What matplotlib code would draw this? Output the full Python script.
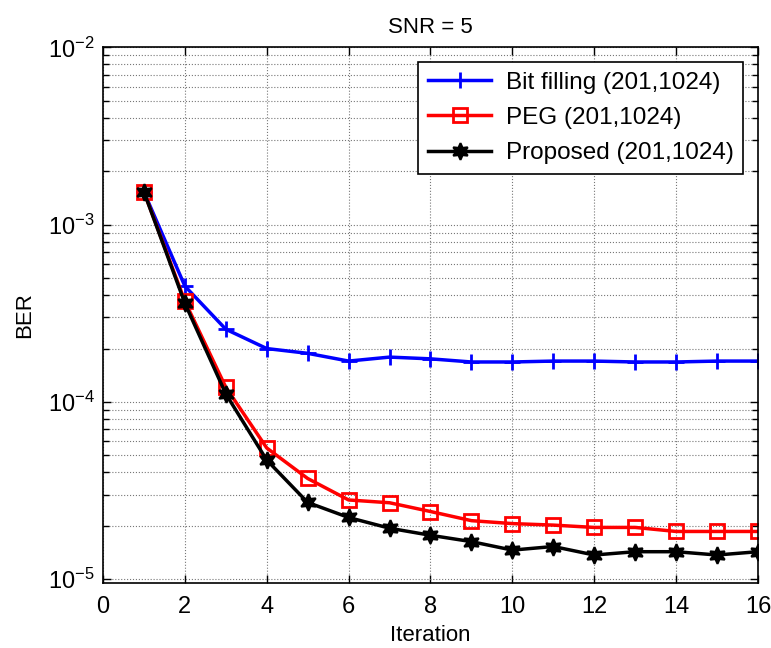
import numpy as np
import matplotlib
matplotlib.use("Agg")
import matplotlib.pyplot as plt
from matplotlib.ticker import LogLocator, MultipleLocator

plt.rcParams['font.family'] = ['Liberation Sans', 'DejaVu Sans']
plt.rcParams['mathtext.fontset'] = 'custom'
plt.rcParams['mathtext.rm'] = 'Liberation Sans'

iteration = np.arange(1, 17)
ber_bitfill = [1.53e-3, 4.5e-4, 2.57e-4, 2.0e-4, 1.88e-4, 1.70e-4, 1.79e-4, 1.75e-4,
               1.68e-4, 1.68e-4, 1.70e-4, 1.70e-4, 1.68e-4, 1.68e-4, 1.70e-4, 1.70e-4]
ber_peg = [1.53e-3, 3.7e-4, 1.21e-4, 5.5e-5, 3.7e-5, 2.8e-5, 2.7e-5, 2.41e-5,
           2.14e-5, 2.06e-5, 2.02e-5, 1.96e-5, 1.96e-5, 1.86e-5, 1.86e-5, 1.86e-5]
ber_proposed = [1.53e-3, 3.6e-4, 1.11e-4, 4.7e-5, 2.71e-5, 2.23e-5, 1.94e-5, 1.77e-5,
                1.63e-5, 1.46e-5, 1.53e-5, 1.37e-5, 1.43e-5, 1.43e-5, 1.37e-5, 1.43e-5]
labels = ['Bit filling (201,1024)', 'PEG (201,1024)', 'Proposed (201,1024)']

fig = plt.figure(figsize=(7.71, 6.48), dpi=100)
ax = fig.add_axes([0.1336, 0.100, 0.8495, 0.827])

ax.semilogy(iteration, ber_bitfill, color='#0000ff', lw=2.5, marker='+',
            ms=12, mew=2, label=labels[0])
ax.semilogy(iteration, ber_peg, color='#ff0000', lw=2.5, marker='s',
            ms=10, mew=2, mfc='none', label=labels[1])
ax.semilogy(iteration, ber_proposed, color='black', lw=2.5, marker=(6, 1, 0),
            ms=12, mew=1.5, label=labels[2])

ax.set_xlim(0, 16)
ax.set_ylim(9.5e-6, 1e-2)
ax.xaxis.set_major_locator(MultipleLocator(2))
ax.yaxis.set_major_locator(LogLocator(base=10, numticks=10))
ax.yaxis.set_minor_locator(LogLocator(base=10, subs=np.arange(2, 10), numticks=10))

ax.grid(True, which='major', linestyle=':', color='#777777', lw=0.8)
ax.grid(True, which='minor', axis='y', linestyle=':', color='#777777', lw=0.8)
ax.tick_params(which='both', direction='in', top=True, right=True, labelsize=17)
ax.tick_params(axis='x', which='major', pad=9)
ax.tick_params(axis='y', which='major', pad=6)
ax.tick_params(which='major', length=6, width=1)
ax.tick_params(which='minor', length=4, width=1)
for s in ax.spines.values():
    s.set_linewidth(1.2)

ax.set_xlabel('Iteration', fontsize=16, labelpad=5)
ax.set_ylabel('BER', fontsize=16, labelpad=9)
ax.set_title('SNR = 5', fontsize=16, pad=10)

leg = ax.legend(loc='upper right', fontsize=17.5, fancybox=False, framealpha=1,
                edgecolor='black', handlelength=2.6, borderaxespad=0.6,
                labelspacing=0.55, borderpad=0.4, handletextpad=0.6)
leg.get_frame().set_linewidth(1.2)

fig.savefig('out.png', dpi=100)
